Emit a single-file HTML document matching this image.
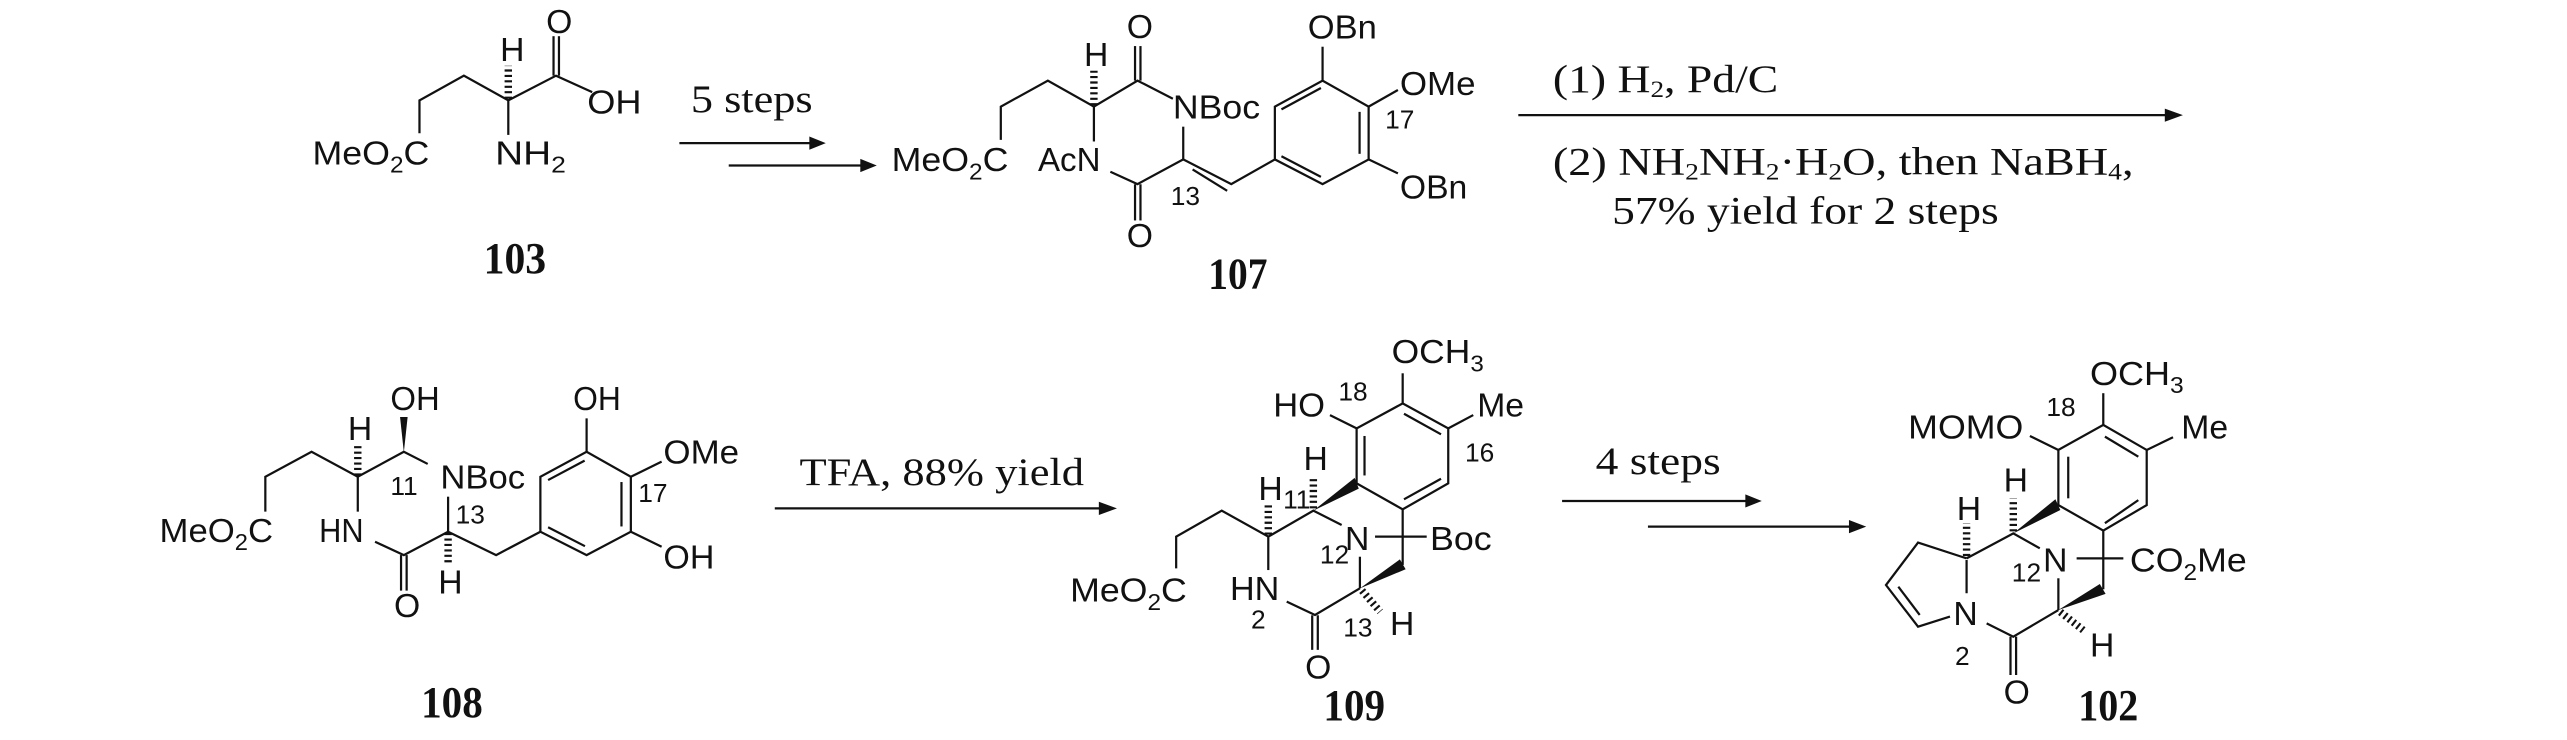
<!DOCTYPE html>
<html><head><meta charset="utf-8"><style>
html,body{margin:0;padding:0;background:#fff;}
svg{display:block;}
.a{font-family:"Liberation Sans",Arial,sans-serif;font-size:20.5px;fill:#111;}
.n{font-family:"Liberation Sans",Arial,sans-serif;font-size:16px;fill:#111;}
.t{font-family:"Liberation Serif","Times New Roman",serif;font-size:23.5px;fill:#111;}
.b{font-family:"Liberation Serif","Times New Roman",serif;font-size:27px;font-weight:bold;fill:#111;}
line,polyline{stroke:#111;stroke-width:1.35;fill:none;}
.h{stroke-width:4.5;stroke-dasharray:1.3 2;}
.w{fill:#111;stroke:none;}
</style></head><body>
<svg width="2567" height="740" viewBox="0 0 1560.5 449.8" preserveAspectRatio="none" xmlns="http://www.w3.org/2000/svg">

<!-- 103 -->
<polyline points="255,81 255,61 282,46 309,61 338,46 360,56"/>
<line x1="309" y1="61" x2="309" y2="82"/>
<line x1="336.5" y1="46" x2="336.5" y2="22"/><line x1="339.8" y1="46" x2="339.8" y2="22"/>
<line class="h" x1="309" y1="60" x2="309" y2="40"/>
<text class="a" x="304" y="37">H</text>
<text class="a" x="332" y="20">O</text>
<text class="a" x="357" y="69" textLength="33" lengthAdjust="spacingAndGlyphs">OH</text>
<text class="a" x="190" y="100" textLength="71" lengthAdjust="spacingAndGlyphs">MeO<tspan font-size="14" dy="5">2</tspan><tspan dy="-5">C</tspan></text>
<text class="a" x="301" y="100" textLength="43" lengthAdjust="spacingAndGlyphs">NH<tspan font-size="14" dy="5">2</tspan></text>
<text class="b" x="294" y="166" textLength="38" lengthAdjust="spacingAndGlyphs">103</text>

<!-- arrows 1 -->
<text class="t" x="420" y="68" textLength="74" lengthAdjust="spacingAndGlyphs">5 steps</text>
<line x1="413" y1="87" x2="494" y2="87"/><polygon class="w" points="502,87 492,83 492,91"/>
<line x1="443" y1="100.6" x2="525" y2="100.6"/><polygon class="w" points="533,100.6 523,96.6 523,104.6"/>

<!-- 107 -->
<polyline points="608.4,85 608.4,64.8 637,49 665,64.8 691.5,49 713,60"/>
<line x1="665" y1="64.8" x2="665" y2="86"/>
<line class="h" x1="665" y1="64" x2="665" y2="43"/>
<text class="a" x="659" y="40">H</text>
<line x1="690" y1="49" x2="690" y2="28"/><line x1="693.3" y1="49" x2="693.3" y2="28"/>
<text class="a" x="685" y="23">O</text>
<text class="a" x="713" y="72" textLength="53" lengthAdjust="spacingAndGlyphs">NBoc</text>
<line x1="719.3" y1="77" x2="719.3" y2="96.9"/>
<polyline points="675,104.4 691.5,111.9 719.3,96.9 748.5,111.9 775,96.9"/>
<line x1="725" y1="103" x2="746" y2="116"/>
<line x1="690" y1="112" x2="690" y2="134"/><line x1="693.3" y1="112" x2="693.3" y2="134"/>
<text class="a" x="685" y="150">O</text>
<text class="n" x="711.7" y="124.6">13</text>
<text class="a" x="542" y="104" textLength="71" lengthAdjust="spacingAndGlyphs">MeO<tspan font-size="14" dy="5">2</tspan><tspan dy="-5">C</tspan></text>
<text class="a" x="631" y="104" textLength="38" lengthAdjust="spacingAndGlyphs">AcN</text>
<polygon points="775,96.9 775,64.8 804,49 832,64.8 832,96.9 804,111.9" fill="none" stroke="#111" stroke-width="1.35"/>
<line x1="779" y1="66.5" x2="803" y2="53.5"/><line x1="826.5" y1="68" x2="826.5" y2="93.5"/><line x1="779" y1="95" x2="803" y2="107.5"/>
<line x1="804" y1="49" x2="804" y2="28.4"/>
<text class="a" x="795" y="23.3" textLength="42" lengthAdjust="spacingAndGlyphs">OBn</text>
<line x1="832" y1="64.8" x2="849.8" y2="54.7"/>
<text class="a" x="851" y="57.8" textLength="46" lengthAdjust="spacingAndGlyphs">OMe</text>
<text class="n" x="842" y="78">17</text>
<line x1="832" y1="96.9" x2="849.8" y2="105.4"/>
<text class="a" x="851" y="120.6" textLength="41" lengthAdjust="spacingAndGlyphs">OBn</text>
<text class="b" x="734.5" y="175.3" textLength="36" lengthAdjust="spacingAndGlyphs">107</text>

<!-- arrow 3 -->
<text class="t" x="944" y="56" textLength="137" lengthAdjust="spacingAndGlyphs">(1) H<tspan font-size="14" dy="3">2</tspan><tspan dy="-3">, Pd/C</tspan></text>
<line x1="923" y1="70" x2="1318" y2="70"/><polygon class="w" points="1327,70 1316,66 1316,74"/>
<text class="t" x="944" y="106" textLength="353" lengthAdjust="spacingAndGlyphs">(2) NH<tspan font-size="14" dy="3">2</tspan><tspan dy="-3">NH</tspan><tspan font-size="14" dy="3">2</tspan><tspan dy="-3">·H</tspan><tspan font-size="14" dy="3">2</tspan><tspan dy="-3">O, then NaBH</tspan><tspan font-size="14" dy="3">4</tspan><tspan dy="-3">,</tspan></text>
<text class="t" x="980" y="136" textLength="235" lengthAdjust="spacingAndGlyphs">57% yield for 2 steps</text>

<!-- 108 -->
<polyline points="161.3,311 161.3,289.8 189.4,274.6 217.5,289.8 245.5,274.6 260,282"/>
<line x1="217.5" y1="289.8" x2="217.5" y2="311"/>
<line class="h" x1="217.5" y1="289" x2="217.5" y2="270"/>
<text class="a" x="211.5" y="267.5">H</text>
<polygon class="w" points="245.5,275 243.2,253.5 247.8,253.5"/>
<text class="a" x="237.3" y="249.2" textLength="30" lengthAdjust="spacingAndGlyphs">OH</text>
<text class="n" x="237.3" y="301">11</text>
<text class="a" x="267.7" y="296.9" textLength="51.5" lengthAdjust="spacingAndGlyphs">NBoc</text>
<line x1="272.4" y1="301.9" x2="272.4" y2="323.2"/>
<polyline points="228,329.3 245.5,337.4 272.4,323.2 301.6,337.4 328.5,323.2"/>
<line x1="243.8" y1="337.4" x2="243.8" y2="359"/><line x1="247.2" y1="337.4" x2="247.2" y2="359"/>
<text class="a" x="239.5" y="374.9">O</text>
<text class="n" x="277" y="318.1">13</text>
<line class="h" x1="272.4" y1="324" x2="272.4" y2="343"/>
<text class="a" x="266.4" y="360.7">H</text>
<text class="a" x="97" y="329.3" textLength="69" lengthAdjust="spacingAndGlyphs">MeO<tspan font-size="14" dy="5">2</tspan><tspan dy="-5">C</tspan></text>
<text class="a" x="194" y="329.3" textLength="27" lengthAdjust="spacingAndGlyphs">HN</text>
<polygon points="328.5,323.2 328.5,289.8 356.6,274.6 383.5,289.8 383.5,323.2 356.6,337.4" fill="none" stroke="#111" stroke-width="1.35"/>
<line x1="333.2" y1="291.8" x2="355.4" y2="280"/><line x1="377.8" y1="293" x2="377.8" y2="320"/><line x1="333.2" y1="320.5" x2="355.6" y2="332"/>
<line x1="356.6" y1="274.6" x2="356.6" y2="254.3"/>
<text class="a" x="348.4" y="249.2" textLength="29" lengthAdjust="spacingAndGlyphs">OH</text>
<line x1="383.5" y1="289.8" x2="402.2" y2="280.6"/>
<text class="a" x="403.3" y="281.7" textLength="46" lengthAdjust="spacingAndGlyphs">OMe</text>
<text class="n" x="388" y="305">17</text>
<line x1="383.5" y1="323.2" x2="402.2" y2="332.3"/>
<text class="a" x="403.3" y="345.5" textLength="31" lengthAdjust="spacingAndGlyphs">OH</text>
<text class="b" x="256" y="435.7" textLength="37.5" lengthAdjust="spacingAndGlyphs">108</text>

<!-- arrow TFA -->
<text class="t" x="486" y="294.7" textLength="173" lengthAdjust="spacingAndGlyphs">TFA, 88% yield</text>
<line x1="471" y1="309" x2="670" y2="309"/><polygon class="w" points="679,309 668,305 668,313"/>

<!-- 109 -->
<polyline points="715,345.5 715,326.2 742.7,310.4 771,326.2 798.4,310.4 815.6,319.1"/>
<line x1="771" y1="326.2" x2="771" y2="346.5"/>
<line class="h" x1="771" y1="325" x2="771" y2="307"/>
<text class="a" x="765" y="304">H</text>
<text class="n" x="780" y="309">11</text>
<line class="h" x1="798.4" y1="309" x2="798.4" y2="290"/>
<text class="a" x="792.4" y="285.7">H</text>
<polygon class="w" points="798.4,310.4 823.5,290.5 826,297"/>
<polygon points="824.7,293.8 824.7,260.4 852.7,245.2 880.4,260.4 880.4,293.8 852.7,309.6" fill="none" stroke="#111" stroke-width="1.35"/>
<line x1="829.5" y1="265" x2="829.5" y2="289"/><line x1="853.5" y1="251.5" x2="876" y2="264"/><line x1="876" y1="291" x2="853.5" y2="303.5"/>
<line x1="824.7" y1="260.4" x2="808.5" y2="252.3"/>
<text class="a" x="774" y="253.3" textLength="31.5" lengthAdjust="spacingAndGlyphs">HO</text>
<text class="n" x="813.6" y="243.5">18</text>
<line x1="852.7" y1="245.2" x2="852.7" y2="226.9"/>
<text class="a" x="846" y="220.8" textLength="56" lengthAdjust="spacingAndGlyphs">OCH<tspan font-size="14" dy="5">3</tspan></text>
<line x1="880.4" y1="260.4" x2="895.6" y2="252.3"/>
<text class="a" x="898" y="253.3">Me</text>
<text class="n" x="890.6" y="280.6">16</text>
<line x1="852.7" y1="309.6" x2="852.7" y2="343.4"/>
<line x1="835.9" y1="326.2" x2="867.3" y2="326.2"/>
<text class="a" x="817.6" y="334.3">N</text>
<text class="a" x="869.3" y="334.3" textLength="37.5" lengthAdjust="spacingAndGlyphs">Boc</text>
<text class="n" x="802.4" y="342.4">12</text>
<line x1="826.7" y1="338.4" x2="826.7" y2="357.6"/>
<polygon class="w" points="826.7,357.6 851,340 854.5,346"/>
<polyline points="782.2,365.7 799.4,373.8 826.7,357.6"/>
<line class="h" x1="828" y1="359" x2="839" y2="371.8"/>
<text class="a" x="845" y="386">H</text>
<text class="n" x="816.6" y="387">13</text>
<line x1="797.7" y1="374" x2="797.7" y2="395"/><line x1="801.1" y1="374" x2="801.1" y2="395"/>
<text class="a" x="793.4" y="412.3">O</text>
<text class="a" x="650.5" y="365.7" textLength="71" lengthAdjust="spacingAndGlyphs">MeO<tspan font-size="14" dy="5">2</tspan><tspan dy="-5">C</tspan></text>
<text class="a" x="747.7" y="364.7" textLength="30" lengthAdjust="spacingAndGlyphs">HN</text>
<text class="n" x="760.5" y="381.9">2</text>
<text class="b" x="804.5" y="437.7" textLength="37.5" lengthAdjust="spacingAndGlyphs">109</text>

<!-- arrows 4 steps -->
<text class="t" x="970" y="288" textLength="76" lengthAdjust="spacingAndGlyphs">4 steps</text>
<line x1="949.6" y1="304.5" x2="1063" y2="304.5"/><polygon class="w" points="1071,304.5 1061,300.5 1061,308.5"/>
<line x1="1001.8" y1="320.1" x2="1126" y2="320.1"/><polygon class="w" points="1134.5,320.1 1124,316.1 1124,324.1"/>

<!-- 102 -->
<polygon points="1251.3,307 1251.3,273.5 1278.6,258.3 1305,273.5 1305,307 1278.6,322.5" fill="none" stroke="#111" stroke-width="1.35"/>
<line x1="1257.3" y1="277.6" x2="1257.3" y2="302.9"/><line x1="1279.6" y1="265.4" x2="1299.9" y2="277.6"/><line x1="1279.6" y1="318" x2="1299.9" y2="304"/>
<line x1="1278.6" y1="258.3" x2="1278.6" y2="239"/>
<text class="a" x="1270.5" y="234" textLength="57" lengthAdjust="spacingAndGlyphs">OCH<tspan font-size="14" dy="5">3</tspan></text>
<line x1="1305" y1="273.5" x2="1321" y2="265.8"/>
<text class="a" x="1326" y="266.4">Me</text>
<text class="n" x="1244" y="253">18</text>
<line x1="1251.3" y1="273.5" x2="1234" y2="265"/>
<text class="a" x="1160" y="266.4" textLength="70" lengthAdjust="spacingAndGlyphs">MOMO</text>
<polygon class="w" points="1223.9,324.2 1249.5,303.5 1252.5,310"/>
<line class="h" x1="1223.9" y1="323" x2="1223.9" y2="303"/>
<text class="a" x="1218" y="298.8">H</text>
<polyline points="1195.5,339.4 1223.9,324.2 1240,333.3"/>
<text class="a" x="1242" y="347.5">N</text>
<text class="n" x="1223" y="353.6">12</text>
<line x1="1262.4" y1="339.4" x2="1290.8" y2="339.4"/>
<text class="a" x="1294.8" y="347.5" textLength="71" lengthAdjust="spacingAndGlyphs">CO<tspan font-size="14" dy="5">2</tspan><tspan dy="-5">Me</tspan></text>
<line x1="1278.6" y1="322.5" x2="1278.6" y2="358.2"/>
<polygon class="w" points="1251.3,370.8 1276.5,355 1280,361"/>
<line x1="1251.3" y1="351.5" x2="1251.3" y2="370.8"/>
<polyline points="1207.7,378.9 1223.9,387 1251.3,370.8"/>
<line x1="1222.2" y1="387" x2="1222.2" y2="410.3"/><line x1="1225.6" y1="387" x2="1225.6" y2="410.3"/>
<text class="a" x="1218" y="427.5">O</text>
<line class="h" x1="1252.5" y1="372" x2="1266.4" y2="383"/>
<text class="a" x="1270.5" y="399">H</text>
<text class="a" x="1187.5" y="379.9">N</text>
<text class="n" x="1188.5" y="404.2">2</text>
<line class="h" x1="1195.5" y1="338" x2="1195.5" y2="318"/>
<text class="a" x="1189.5" y="316">H</text>
<line x1="1195.5" y1="340.4" x2="1195.5" y2="360.6"/>
<polyline points="1195.5,339.4 1166,329.8 1146.5,355.6 1166,380.9 1185.4,374.8"/>
<line x1="1154" y1="356.6" x2="1167" y2="373.8"/>
<text class="b" x="1263.4" y="437.6" textLength="36.5" lengthAdjust="spacingAndGlyphs">102</text>
</svg>
</body></html>
